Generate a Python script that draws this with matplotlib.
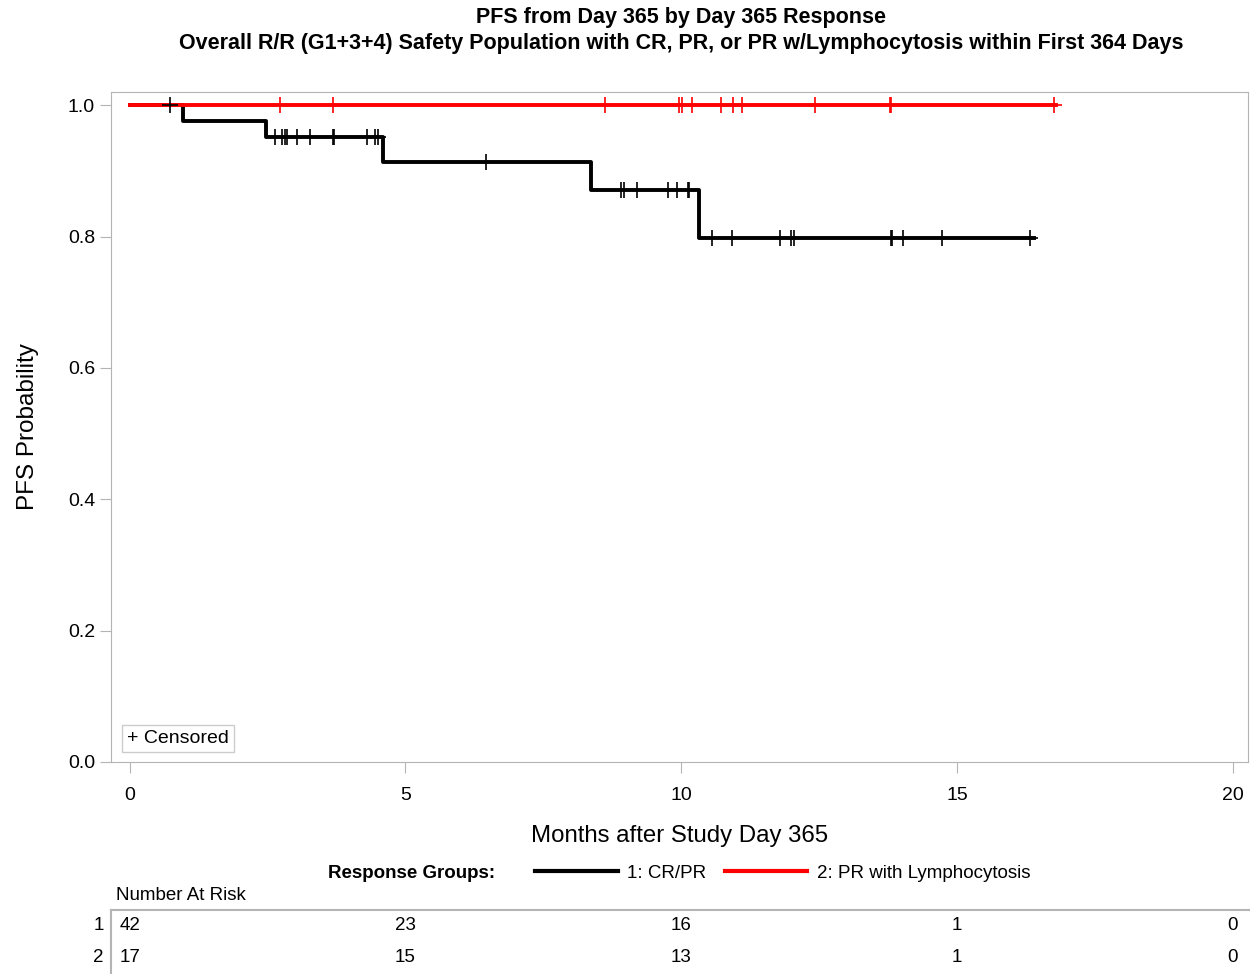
import numpy as np
import matplotlib.pyplot as plt
from matplotlib.lines import Line2D
import matplotlib.transforms as mtransforms

plt.rcParams['font.family'] = ['Liberation Sans', 'DejaVu Sans']

# Kaplan-Meier step data
g1_times = [0, 0.96, 2.47, 4.59, 8.36, 10.32, 16.40]
g1_surv = [1.0, 0.976, 0.952, 0.913, 0.871, 0.798, 0.798]
g2_times = [0, 16.80]
g2_surv = [1.0, 1.0]

# censored times
g1_cens_t = [0.73, 2.63, 2.77, 2.82, 2.85, 3.03, 3.26, 3.69, 3.71, 4.31, 4.45, 4.50,
             6.46, 8.91, 8.96, 9.20, 9.76, 9.92, 10.13, 10.15,
             10.55, 10.92, 11.80, 12.00, 12.05, 13.81, 13.83, 14.03, 14.73, 16.33]
g2_cens_t = [2.73, 3.69, 8.61, 9.96, 10.02, 10.20, 10.72, 10.94, 11.10, 12.42,
             13.78, 13.81, 16.76]

risk_times = [0, 5, 10, 15, 20]
risk_g1 = [42, 23, 16, 1, 0]
risk_g2 = [17, 15, 13, 1, 0]


def surv_at(t, times, surv):
    idx = np.searchsorted(times, t, side='right') - 1
    return np.array(surv)[idx]


fig = plt.figure(figsize=(12.5, 9.74), dpi=100)
ax = fig.add_axes([0.0888, 0.2177, 0.9092, 0.6878])

ax.step(g1_times, g1_surv, where='post', color='black', lw=2.8)
ax.step(g2_times, g2_surv, where='post', color='#ff0000', lw=2.8)
ax.plot(g1_cens_t, surv_at(g1_cens_t, g1_times, g1_surv), '+', color='black',
        ms=11, mew=1.2)
ax.plot(g2_cens_t, surv_at(g2_cens_t, g2_times, g2_surv), '+', color='#ff0000',
        ms=11, mew=1.2)

ax.set_xlim(-0.34, 20.27)
ax.set_ylim(0, 1.02)
ax.set_xticks([0, 5, 10, 15, 20])
ax.set_yticks([0.0, 0.2, 0.4, 0.6, 0.8, 1.0])
ax.set_yticklabels(['0.0', '0.2', '0.4', '0.6', '0.8', '1.0'])
for s in ax.spines.values():
    s.set_color('#b4b4b4')
ax.tick_params(colors='#b4b4b4', labelcolor='black', labelsize=14, length=8)
ax.tick_params(axis='x', pad=10)
ax.set_xlabel('Months after Study Day 365', fontsize=17.3, labelpad=15)
ax.set_ylabel('PFS Probability', fontsize=17.5, labelpad=21)

ax.text(0.014, 0.022, '+ Censored', transform=ax.transAxes, fontsize=14,
        va='bottom', ha='left',
        bbox=dict(boxstyle='square,pad=0.25', fc='white', ec='#cccccc'))

fig.text(0.545, 1 - 17 / 974, 'PFS from Day 365 by Day 365 Response', ha='center',
         va='center', fontsize=15.5, fontweight='bold')
fig.text(0.545, 1 - 43 / 974,
         'Overall R/R (G1+3+4) Safety Population with CR, PR, or PR w/Lymphocytosis within First 364 Days',
         ha='center', va='center', fontsize=15.5, fontweight='bold')

# legend
fig.text(0.396, 1 - 873 / 974, 'Response Groups:', ha='right', va='center',
         fontsize=13.5, fontweight='bold')
handles = [Line2D([], [], color='black', lw=3), Line2D([], [], color='#ff0000', lw=3)]
fig.legend(handles, ['1: CR/PR', '2: PR with Lymphocytosis'], ncol=2,
           loc='center left', bbox_to_anchor=(0.4145, 1 - 873 / 974), frameon=False,
           fontsize=13.5, handlelength=4.4, handletextpad=0.5, columnspacing=1.0)

# number at risk table
fig.text(116 / 1250, 1 - 896 / 974, 'Number At Risk', ha='left', va='center',
         fontsize=13.5)
trans = mtransforms.blended_transform_factory(ax.transData, fig.transFigure)
for row, (lab, vals) in enumerate([('1', risk_g1), ('2', risk_g2)]):
    yy = 1 - (926 + 32 * row) / 974
    fig.text(104 / 1250, yy, lab, ha='right', va='center', fontsize=13.5)
    for t, v in zip(risk_times, vals):
        fig.text(t, yy, str(v), transform=trans, ha='center', va='center',
                 fontsize=13.5)
fig.add_artist(Line2D([111 / 1250, 1.0], [1 - 910 / 974] * 2, color='#b4b4b4', lw=1.5))
fig.add_artist(Line2D([111 / 1250] * 2, [1 - 910 / 974, 0], color='#b4b4b4', lw=1.5))

fig.savefig('out.png', dpi=100)
